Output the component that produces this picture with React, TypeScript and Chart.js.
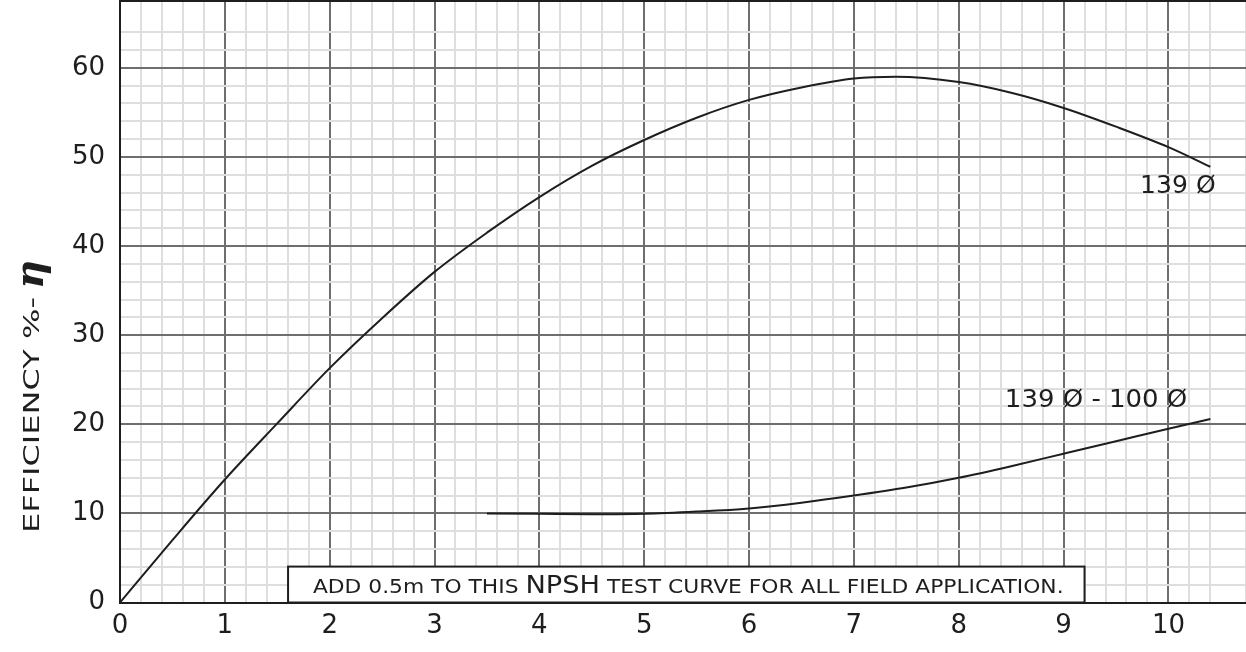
import React, { useEffect, useRef } from "react";
import { Chart, registerables } from "chart.js";

Chart.register(...registerables);

// ---- data ----
const FLOW_139 = [0, 0.5, 1, 1.5, 2, 2.5, 3, 3.5, 4, 4.5, 5, 5.5, 6, 6.5, 7, 7.4, 8, 8.5, 9, 9.5, 10, 10.4];
const EFF_139 = [0, 7.0, 13.8, 20.1, 26.3, 31.9, 37.1, 41.5, 45.5, 49.0, 51.9, 54.4, 56.4, 57.8, 58.8, 59.0, 58.4, 57.2, 55.5, 53.4, 51.1, 48.9];
const FLOW_DIFF = [3.5, 4, 4.5, 5, 5.5, 6, 6.5, 7, 7.5, 8, 8.5, 9, 9.5, 10, 10.4];
const EFF_DIFF = [10.0, 9.95, 9.9, 9.95, 10.2, 10.56, 11.2, 12.0, 12.9, 14.0, 15.3, 16.7, 18.1, 19.5, 20.6];
const X_TICK_LABELS = ["0", "1", "2", "3", "4", "5", "6", "7", "8", "9", "10"];
const Y_TICK_LABELS = ["0", "10", "20", "30", "40", "50", "60"];
const CURVE_LABELS = ["139 Ø", "139 Ø - 100 Ø"];
const Y_TITLE = "EFFICIENCY %- ";
const NOTE_PARTS = ["ADD 0.5m TO THIS ", "NPSH", " TEST CURVE FOR ALL FIELD APPLICATION."];

const X_MAX = 10.74;
const Y_MAX = 67.5;
const FONT = "'DejaVu Sans', 'Liberation Sans', Arial, sans-serif";
const INK = "#1e1e1e";

const isMultiple = (v: number, m: number) => Math.abs(v / m - Math.round(v / m)) < 1e-6;

// draws text stretched horizontally to a given width
function fitText(ctx: CanvasRenderingContext2D, text: string, x: number, y: number, width: number) {
  const w = ctx.measureText(text).width;
  const k = width / w;
  ctx.save();
  ctx.translate(x, y);
  ctx.scale(k, 1);
  ctx.fillText(text, 0, 0);
  ctx.restore();
}

const decorPlugin = {
  id: "decor",
  afterDatasetsDraw(chart: any) {
    const { ctx, chartArea, scales } = chart;
    const xs = scales.x;
    const ys = scales.y;
    ctx.save();
    // top border
    ctx.strokeStyle = INK;
    ctx.lineWidth = 2;
    ctx.beginPath();
    ctx.moveTo(chartArea.left, chartArea.top);
    ctx.lineTo(chartArea.right, chartArea.top);
    ctx.stroke();

    // curve labels
    ctx.fillStyle = INK;
    ctx.font = `25px ${FONT}`;
    ctx.textAlign = "left";
    ctx.textBaseline = "alphabetic";
    const l1x = xs.getPixelForValue(9.73);
    fitText(ctx, CURVE_LABELS[0], l1x, ys.getPixelForValue(46.0), xs.getPixelForValue(10.45) - l1x);
    const l2x = xs.getPixelForValue(8.44);
    fitText(ctx, CURVE_LABELS[1], l2x, ys.getPixelForValue(21.9), xs.getPixelForValue(10.18) - l2x);

    // note box
    const bx0 = xs.getPixelForValue(1.603);
    const bx1 = xs.getPixelForValue(9.2);
    const by0 = ys.getPixelForValue(4.03);
    const by1 = ys.getPixelForValue(0);
    ctx.fillStyle = "#ffffff";
    ctx.fillRect(bx0, by0, bx1 - bx0, by1 - by0);
    ctx.strokeStyle = INK;
    ctx.lineWidth = 2;
    ctx.strokeRect(bx0, by0, bx1 - bx0, by1 - by0);
    ctx.fillStyle = INK;
    const base = ys.getPixelForValue(1.06);
    const tx0 = xs.getPixelForValue(1.84);
    const tx1 = xs.getPixelForValue(9.0);
    ctx.font = `20px ${FONT}`;
    const a = ctx.measureText(NOTE_PARTS[0]).width;
    const c = ctx.measureText(NOTE_PARTS[2]).width;
    ctx.font = `25px ${FONT}`;
    const b = ctx.measureText(NOTE_PARTS[1]).width;
    const k = (tx1 - tx0) / (a + b + c);
    ctx.translate(tx0, base);
    ctx.scale(k, 1);
    ctx.font = `20px ${FONT}`;
    ctx.fillText(NOTE_PARTS[0], 0, 0);
    ctx.font = `25px ${FONT}`;
    ctx.fillText(NOTE_PARTS[1], a, 0);
    ctx.font = `20px ${FONT}`;
    ctx.fillText(NOTE_PARTS[2], a + b, 0);
    ctx.restore();

    // y-axis title (rotated)
    ctx.save();
    ctx.fillStyle = INK;
    ctx.translate(33, 533);
    ctx.rotate(-Math.PI / 2);
    ctx.textAlign = "left";
    ctx.textBaseline = "middle";
    ctx.font = `22px ${FONT}`;
    fitText(ctx, Y_TITLE.trim(), 0, 0, 236);
    ctx.font = `bold italic 40px 'DejaVu Serif', serif`;
    ctx.fillText("η", 244, 0);
    ctx.restore();
  },
};

export default function App() {
  const ref = useRef<HTMLCanvasElement | null>(null);

  useEffect(() => {
    if (!ref.current) return;
    const chart = new Chart(ref.current, {
      type: "line",
      data: {
        datasets: [
          {
            label: CURVE_LABELS[0],
            data: FLOW_139.map((x, i) => ({ x, y: EFF_139[i] })),
            borderColor: INK,
            borderWidth: 2,
            pointRadius: 0,
            cubicInterpolationMode: "monotone",
            fill: false,
          },
          {
            label: CURVE_LABELS[1],
            data: FLOW_DIFF.map((x, i) => ({ x, y: EFF_DIFF[i] })),
            borderColor: INK,
            borderWidth: 2,
            pointRadius: 0,
            cubicInterpolationMode: "monotone",
            fill: false,
          },
        ],
      },
      options: {
        responsive: false,
        animation: false,
        events: [],
        layout: { padding: { top: 1, right: 0, left: 0, bottom: 0 } },
        plugins: { legend: { display: false }, tooltip: { enabled: false }, title: { display: false } },
        scales: {
          x: {
            type: "linear",
            min: 0,
            max: X_MAX,
            afterFit: (s: any) => {
              s.height = 49.5;
              s.paddingLeft = 0;
              s.paddingRight = 0;
            },
            ticks: {
              stepSize: 0.2,
              autoSkip: false,
              maxRotation: 0,
              padding: 8,
              color: INK,
              font: { size: 26, family: FONT },
              callback: (v: any) => {
                const n = Number(v);
                if (!isMultiple(n, 1)) return "";
                return X_TICK_LABELS[Math.round(n)] ?? "";
              },
            },
            grid: {
              drawTicks: false,
              lineWidth: 2,
              color: (c: any) => {
                const v = c.tick ? c.tick.value : 0;
                return isMultiple(v, 1) ? "#6e6e6e" : "#dedede";
              },
            },
            border: { color: INK, width: 2 },
          },
          y: {
            type: "linear",
            min: 0,
            max: Y_MAX,
            afterFit: (s: any) => {
              s.width = 120;
              s.paddingTop = 0;
              s.paddingBottom = 0;
            },
            ticks: {
              stepSize: 2,
              autoSkip: false,
              padding: 15,
              color: INK,
              font: { size: 26, family: FONT },
              callback: (v: any) => {
                const n = Number(v);
                if (!isMultiple(n, 10)) return "";
                return Y_TICK_LABELS[Math.round(n / 10)] ?? "";
              },
            },
            grid: {
              drawTicks: false,
              lineWidth: 2,
              color: (c: any) => {
                const v = c.tick ? c.tick.value : 0;
                return isMultiple(v, 10) ? "#6e6e6e" : "#dedede";
              },
            },
            border: { color: INK, width: 2 },
          },
        },
      },
      plugins: [decorPlugin],
    });
    return () => chart.destroy();
  }, []);

  return (
    <div style={{ position: "fixed", left: 0, top: 0, width: 1246, height: 652, background: "#fff" }}>
      <canvas ref={ref} width={1246} height={652} style={{ display: "block" }} />
    </div>
  );
}
